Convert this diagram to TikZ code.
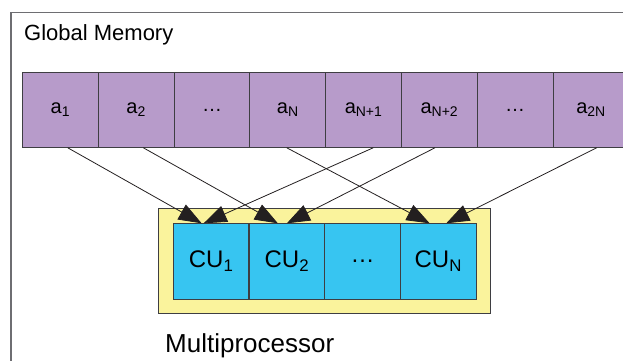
\documentclass[tikz,border=0pt]{standalone}
\usepackage{fontspec}
\setmainfont{Liberation Sans}
\definecolor{memfill}{RGB}{183,155,202}
\definecolor{cufill}{RGB}{55,197,241}
\definecolor{mpfill}{RGB}{250,243,156}
\definecolor{edge}{RGB}{62,62,66}
\definecolor{wiredark}{RGB}{35,31,32}
\definecolor{framegray}{RGB}{110,110,114}
\usetikzlibrary{arrows.meta,positioning,fit,backgrounds,calc}

\begin{document}
\begin{tikzpicture}[x=1pt,y=-1pt,
    cell/.style={draw=edge,line width=1.1pt,minimum width=75.8pt,minimum height=75.5pt,inner sep=0pt,outer sep=0pt},
    memcell/.style={cell,fill=memfill,font=\fontsize{20}{22}\selectfont},
    cucell/.style={cell,fill=cufill,minimum height=76pt,font=\fontsize{24}{26}\selectfont},
    wire/.style={wiredark,line width=0.8pt,-{Triangle[length=23pt,width=17pt]}}]
  \useasboundingbox (0,0) rectangle (623,360);
  \draw[framegray,line width=1.1pt] (640,12.5) -- (11,12.5) -- (11,370);
  \node[anchor=base west,inner sep=0pt,font=\fontsize{22}{24}\selectfont] (gmtitle) at (24,40) {Global Memory};
  % memory row
  \foreach \i/\lbl in {1/a\textsubscript{1},2/a\textsubscript{2},3/\ldots,4/a\textsubscript{N},
      5/a\textsubscript{N+1},6/a\textsubscript{N+2},7/\ldots,8/a\textsubscript{2N}}
    \node[memcell] (m\i) at ({22.5+75.8*(\i-0.5)},110) {\lbl};
  % compute units
  \foreach \i/\lbl in {1/CU\textsubscript{1},2/CU\textsubscript{2},3/\ldots,4/CU\textsubscript{N}}
    \node[cucell] (cu\i) at ({173.3+75.7*(\i-0.5)},261.3) {\lbl};
  \begin{scope}[on background layer]
    \node[draw=edge,line width=1.1pt,fill=mpfill,inner sep=14.5pt,fit=(cu1)(cu4)] (mp) {};
  \end{scope}
  \node[anchor=base west,inner sep=0pt,font=\fontsize{26}{28}\selectfont] (mptitle) at (165,352) {Multiprocessor};
  % element -> unit
  \foreach \s/\so/\t/\to in {1/7.3/1/-9.5,2/7.1/2/-9,4/-1.1/4/-8.6,5/9.7/1/-7.5,6/-4.4/2/0,8/5.7/4/8}
    \draw[wire] ($(m\s.south)+(\so,0)$) -- ($(cu\t.north)+(\to,0)$);
\end{tikzpicture}
\end{document}
